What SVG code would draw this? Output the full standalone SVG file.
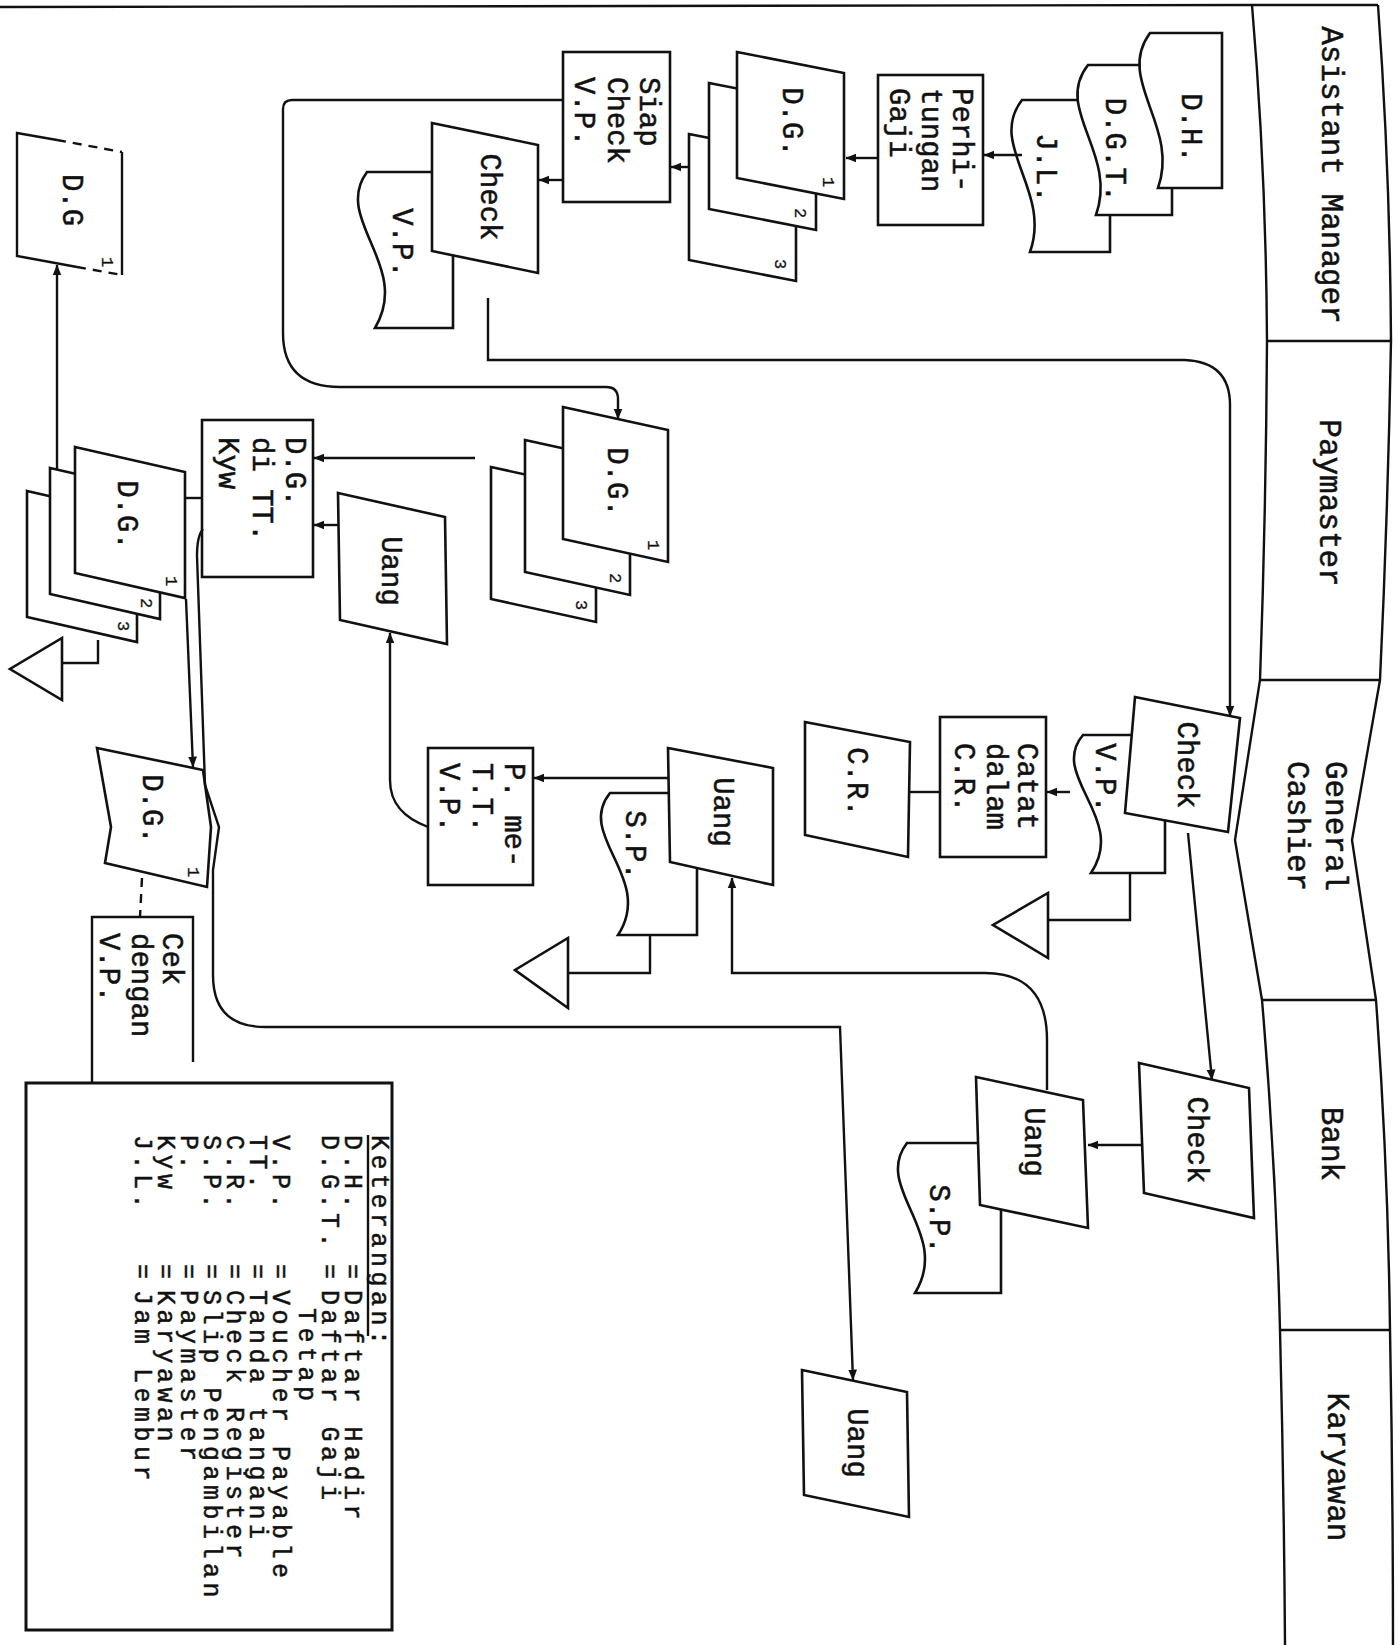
<svg xmlns="http://www.w3.org/2000/svg" width="1398" height="1645" viewBox="0 0 1398 1645">
<defs>
<marker id="ah" viewBox="0 0 10 10" refX="9.5" refY="5" markerWidth="11" markerHeight="11" markerUnits="userSpaceOnUse" orient="auto"><path d="M0,1 L10,5 L0,9 Z" fill="#111"/></marker>
</defs>
<style>
.s{fill:#fff;stroke:#111;stroke-width:2.6;stroke-linejoin:miter}
.c{fill:none;stroke:#111;stroke-width:2.4}
.a{marker-end:url(#ah)}
.d{stroke-dasharray:9 7}
.t{font-family:"Liberation Mono","DejaVu Sans Mono",monospace;font-size:29px;fill:#111;stroke:#111;stroke-width:0.5;dominant-baseline:central}
.m{text-anchor:middle}
.h{font-size:31px}
.n{font-size:17px;stroke-width:0.3}
.l{font-size:25px;letter-spacing:4.5px}
</style>
<rect x="0" y="0" width="1398" height="1645" fill="#fff"/>

<g id="frame">
<path class="c" d="M0,7 L1252,5"/>
<path class="c" d="M1252,5 L1378,5"/>
<path class="c" d="M1252,5 Q1266,170 1267,341 Q1266,510 1260,680 L1235,840 L1262,1000 Q1276,1165 1280,1330 Q1284,1490 1285,1645"/>
<path class="c" d="M1378,5 Q1390,170 1391,341 Q1388,510 1380,680 L1352,840 L1376,1000 Q1388,1165 1390,1330 Q1393,1490 1393,1645"/>
<path class="c" d="M1267,341 L1391,341 M1260,680 L1380,680 M1262,1000 L1376,1000 M1280,1330 L1390,1330"/>
<text class="t h m" x="1330" y="175" transform="rotate(90 1330 175)">Asistant Manager</text>
<text class="t h m" x="1328" y="503" transform="rotate(90 1328 503)">Paymaster</text>
<text class="t h m" x="1334" y="826" transform="rotate(90 1334 826)">General</text>
<text class="t h m" x="1296" y="826" transform="rotate(90 1296 826)">Cashier</text>
<text class="t h m" x="1330" y="1144" transform="rotate(90 1330 1144)">Bank</text>
<text class="t h m" x="1336" y="1467" transform="rotate(90 1336 1467)">Karyawan</text>
</g>

<g id="doc-jl">
<path class="s" d="M1110,100 L1022,100 C987,145 1052,190 1030,252 L1110,252 Z"/>
<text class="t m" x="1044" y="168" transform="rotate(90 1044 168)">J.L.</text>
</g>
<g id="doc-dgt">
<path class="s" d="M1172,65 L1088,65 C1053,109 1118,153 1096,215 L1172,215 Z"/>
<text class="t m" x="1113" y="150" transform="rotate(90 1113 150)">D.G.T.</text>
</g>
<g id="doc-dh">
<path class="s" d="M1222,33 L1150,33 C1115,80 1180,126 1158,188 L1222,188 Z"/>
<text class="t m" x="1189" y="128" transform="rotate(90 1189 128)">D.H.</text>
</g>

<g id="perhitungan-gaji">
<rect class="s" x="878" y="75" width="105" height="150"/>
<text class="t" x="960" y="88" transform="rotate(90 960 88)">Perhi-</text>
<text class="t" x="929" y="88" transform="rotate(90 929 88)">tungan</text>
<text class="t" x="897" y="88" transform="rotate(90 897 88)">Gaji</text>
</g>

<g id="dg-am">
<polygon class="s" points="689,134 796,155 796,281 689,260"/>
<text class="t n m" x="779" y="264" transform="rotate(90 779 264)">3</text>
<polygon class="s" points="709,83 816,104 816,230 709,209"/>
<text class="t n m" x="799" y="213" transform="rotate(90 799 213)">2</text>
<polygon class="s" points="737,52 844,73 844,199 737,178"/>
<text class="t n m" x="827" y="182" transform="rotate(90 827 182)">1</text>
<text class="t m" x="790" y="122" transform="rotate(90 790 122)">D.G.</text>
</g>

<g id="siap-check">
<rect class="s" x="563" y="52" width="107" height="150"/>
<text class="t" x="647" y="77" transform="rotate(90 647 77)">Siap</text>
<text class="t" x="615" y="77" transform="rotate(90 615 77)">Check</text>
<text class="t" x="582" y="77" transform="rotate(90 582 77)">V.P.</text>
</g>

<g id="vp-am">
<path class="s" d="M453,172 L367,172 C332,219 412,266 375,328 L453,328 Z"/>
<text class="t m" x="400" y="243" transform="rotate(90 400 243)">V.P.</text>
</g>
<g id="check-am">
<polygon class="s" points="432,123 538,145 538,273 432,251"/>
<text class="t m" x="488" y="197" transform="rotate(90 488 197)">Check</text>
</g>

<g id="dg-paymaster">
<polygon class="s" points="491,467 596,490 596,622 491,599"/>
<text class="t n m" x="580" y="605" transform="rotate(90 580 605)">3</text>
<polygon class="s" points="525,440 630,463 630,595 525,572"/>
<text class="t n m" x="614" y="578" transform="rotate(90 614 578)">2</text>
<polygon class="s" points="563,407 668,430 668,562 563,539"/>
<text class="t n m" x="652" y="545" transform="rotate(90 652 545)">1</text>
<text class="t m" x="615" y="482" transform="rotate(90 615 482)">D.G.</text>
</g>

<g id="dg-di-tt-kyw">
<rect class="s" x="202" y="420" width="111" height="157"/>
<text class="t" x="293" y="437" transform="rotate(90 293 437)">D.G.</text>
<text class="t" x="260" y="437" transform="rotate(90 260 437)">di TT.</text>
<text class="t" x="226" y="437" transform="rotate(90 226 437)">Kyw</text>
</g>

<g id="uang-paymaster">
<polygon class="s" points="338,493 445,517 447,644 340,620"/>
<text class="t m" x="389" y="571" transform="rotate(90 389 571)">Uang</text>
</g>

<g id="dg-dashed">
<path d="M17,133 L122,152 L122,275 L17,256 Z" fill="#fff" stroke="none"/>
<path class="c" d="M57,140 L17,133 L17,256 L77,267"/>
<path class="c" d="M122,152 L122,275"/>
<path class="c d" d="M57,140 L122,152"/>
<path class="c d" d="M77,267 L122,275"/>
<text class="t m" x="70" y="200" transform="rotate(90 70 200)">D.G</text>
<text class="t n m" x="106" y="262" transform="rotate(90 106 262)">1</text>
</g>

<g id="dg-stack-left">
<polygon class="s" points="27,491 137,516 137,642 27,617"/>
<text class="t n m" x="122" y="626" transform="rotate(90 122 626)">3</text>
<polygon class="s" points="50,468 160,493 160,619 50,594"/>
<text class="t n m" x="145" y="603" transform="rotate(90 145 603)">2</text>
<polygon class="s" points="75,447 185,472 185,598 75,573"/>
<text class="t n m" x="170" y="581" transform="rotate(90 170 581)">1</text>
<text class="t m" x="125" y="515" transform="rotate(90 125 515)">D.G.</text>
</g>

<g id="file-left">
<polygon class="s" points="62,638 62,700 10,669"/>
</g>

<g id="dg-bottom">
<polygon class="s" points="97,748 203,770 211,827 207,887 105,863 111,827"/>
<text class="t m" x="150" y="809" transform="rotate(90 150 809)">D.G.</text>
<text class="t n m" x="192" y="872" transform="rotate(90 192 872)">1</text>
</g>

<g id="cek-dengan-vp">
<path d="M92,917 L193,917 L193,1062 L92,1062 Z" fill="#fff" stroke="none"/>
<path class="c" d="M92,1083 L92,917 L193,917 L193,1062"/>
<text class="t" x="170" y="933" transform="rotate(90 170 933)">Cek</text>
<text class="t" x="139" y="933" transform="rotate(90 139 933)">dengan</text>
<text class="t" x="107" y="933" transform="rotate(90 107 933)">V.P.</text>
</g>

<g id="vp-gc">
<path class="s" d="M1165,735 L1083,735 C1048,776 1128,818 1091,873 L1165,873 Z"/>
<text class="t m" x="1103" y="778" transform="rotate(90 1103 778)">V.P.</text>
</g>
<g id="check-gc">
<polygon class="s" points="1135,697 1240,718 1228,832 1125,813"/>
<text class="t m" x="1185" y="765" transform="rotate(90 1185 765)">Check</text>
</g>

<g id="catat-cr">
<rect class="s" x="940" y="717" width="106" height="140"/>
<text class="t" x="1025" y="743" transform="rotate(90 1025 743)">Catat</text>
<text class="t" x="994" y="743" transform="rotate(90 994 743)">dalam</text>
<text class="t" x="962" y="743" transform="rotate(90 962 743)">C.R.</text>
</g>

<g id="cr">
<polygon class="s" points="805,722 910,742 908,857 805,835"/>
<text class="t m" x="855" y="782" transform="rotate(90 855 782)">C.R.</text>
</g>

<g id="file-gc-1">
<polygon class="s" points="1048,893 1048,958 993,925"/>
</g>

<g id="sp-gc">
<path class="s" d="M697,793 L610,793 C575,836 655,878 618,935 L697,935 Z"/>
<text class="t m" x="633" y="845" transform="rotate(90 633 845)">S.P.</text>
</g>
<g id="uang-gc">
<polygon class="s" points="668,748 773,768 773,885 670,862"/>
<text class="t m" x="721" y="812" transform="rotate(90 721 812)">Uang</text>
</g>

<g id="pmett-vp">
<rect class="s" x="428" y="748" width="105" height="137"/>
<text class="t" x="512" y="763" transform="rotate(90 512 763)">P. me-</text>
<text class="t" x="480" y="763" transform="rotate(90 480 763)">T.T.</text>
<text class="t" x="447" y="763" transform="rotate(90 447 763)">V.P.</text>
</g>

<g id="file-gc-2">
<polygon class="s" points="568,938 568,1008 515,970"/>
</g>

<g id="check-bank">
<polygon class="s" points="1139,1063 1249,1088 1254,1218 1144,1193"/>
<text class="t m" x="1195" y="1140" transform="rotate(90 1195 1140)">Check</text>
</g>

<g id="sp-bank">
<path class="s" d="M1001,1143 L907,1143 C872,1188 952,1233 915,1293 L1001,1293 Z"/>
<text class="t m" x="937" y="1219" transform="rotate(90 937 1219)">S.P.</text>
</g>
<g id="uang-bank">
<polygon class="s" points="976,1077 1083,1100 1088,1228 980,1205"/>
<text class="t m" x="1032" y="1142" transform="rotate(90 1032 1142)">Uang</text>
</g>

<g id="uang-karyawan">
<polygon class="s" points="802,1370 907,1392 909,1517 804,1495"/>
<text class="t m" x="855" y="1443" transform="rotate(90 855 1443)">Uang</text>
</g>

<g id="connectors">
<path class="c a" d="M1022,155 L984,155"/>
<path class="c a" d="M878,158 L846,158"/>
<path class="c a" d="M688,167 L671,167"/>
<path class="c a" d="M563,180 L539,180"/>
<path class="c a" d="M562,100 L292,100 Q283,100 283,109 L283,333 Q283,387 340,387 L606,387 Q618,387 618,399 L618,419"/>
<path class="c a" d="M488,298 L488,360 L1185,360 Q1230,362 1230,405 L1230,716"/>
<path class="c a" d="M475,458 L314,458"/>
<path class="c a" d="M338,525 L314,525"/>
<path class="c" d="M185,498 L202,498"/>
<path class="c a" d="M57,469 L57,265"/>
<path class="c" d="M98,640 L98,663 L62,663"/>
<path class="c a" d="M186,599 L193,767"/>
<path class="c d" d="M142,878 L140,917"/>
<path class="c a" d="M203,529 Q197,536 197,556 L205,785 L219,827 L213,870 L213,975 Q213,1027 265,1027 L840,1027 L853,1380"/>
<path class="c a" d="M428,827 C404,818 390,804 390,780 L390,633"/>
<path class="c a" d="M668,778 L534,778"/>
<path class="c a" d="M1047,1090 L1047,1040 Q1047,973 985,973 L732,973 L732,878"/>
<path class="c" d="M650,935 L650,973 L568,973"/>
<path class="c a" d="M1070,792 L1047,792"/>
<path class="c" d="M940,792 L909,792"/>
<path class="c" d="M1130,873 L1130,920 L1048,920"/>
<path class="c a" d="M1188,833 L1212,1080"/>
<path class="c a" d="M1141,1145 L1088,1145"/>
</g>

<g id="legend">
<rect x="26" y="1083" width="366" height="547" fill="#fff" stroke="#111" stroke-width="3"/>
<text class="t l" x="378" y="1135" transform="rotate(90 378 1135)">Keterangan:</text>
<path class="c" d="M368,1135 L368,1336"/>
<text class="t l" x="351" y="1135" transform="rotate(90 351 1135)">D.H.</text>
<text class="t l" x="351" y="1264" transform="rotate(90 351 1264)">=</text>
<text class="t l" x="351" y="1290" transform="rotate(90 351 1290)">Daftar Hadir</text>
<text class="t l" x="328" y="1135" transform="rotate(90 328 1135)">D.G.T.</text>
<text class="t l" x="328" y="1264" transform="rotate(90 328 1264)">=</text>
<text class="t l" x="328" y="1290" transform="rotate(90 328 1290)">Daftar Gaji</text>
<text class="t l" x="305" y="1308" transform="rotate(90 305 1308)">Tetap</text>
<text class="t l" x="279" y="1135" transform="rotate(90 279 1135)">V.P.</text>
<text class="t l" x="279" y="1264" transform="rotate(90 279 1264)">=</text>
<text class="t l" x="279" y="1290" transform="rotate(90 279 1290)">Voucher Payable</text>
<text class="t l" x="256" y="1135" transform="rotate(90 256 1135)">TT.</text>
<text class="t l" x="256" y="1264" transform="rotate(90 256 1264)">=</text>
<text class="t l" x="256" y="1290" transform="rotate(90 256 1290)">Tanda tangani</text>
<text class="t l" x="233" y="1135" transform="rotate(90 233 1135)">C.R.</text>
<text class="t l" x="233" y="1264" transform="rotate(90 233 1264)">=</text>
<text class="t l" x="233" y="1290" transform="rotate(90 233 1290)">Check Register</text>
<text class="t l" x="210" y="1135" transform="rotate(90 210 1135)">S.P.</text>
<text class="t l" x="210" y="1264" transform="rotate(90 210 1264)">=</text>
<text class="t l" x="210" y="1290" transform="rotate(90 210 1290)">Slip Pengambilan</text>
<text class="t l" x="187" y="1135" transform="rotate(90 187 1135)">P.</text>
<text class="t l" x="187" y="1264" transform="rotate(90 187 1264)">=</text>
<text class="t l" x="187" y="1290" transform="rotate(90 187 1290)">Paymaster</text>
<text class="t l" x="164" y="1135" transform="rotate(90 164 1135)">Kyw</text>
<text class="t l" x="164" y="1264" transform="rotate(90 164 1264)">=</text>
<text class="t l" x="164" y="1290" transform="rotate(90 164 1290)">Karyawan</text>
<text class="t l" x="141" y="1135" transform="rotate(90 141 1135)">J.L.</text>
<text class="t l" x="141" y="1264" transform="rotate(90 141 1264)">=</text>
<text class="t l" x="141" y="1290" transform="rotate(90 141 1290)">Jam Lembur</text>
</g>
</svg>
